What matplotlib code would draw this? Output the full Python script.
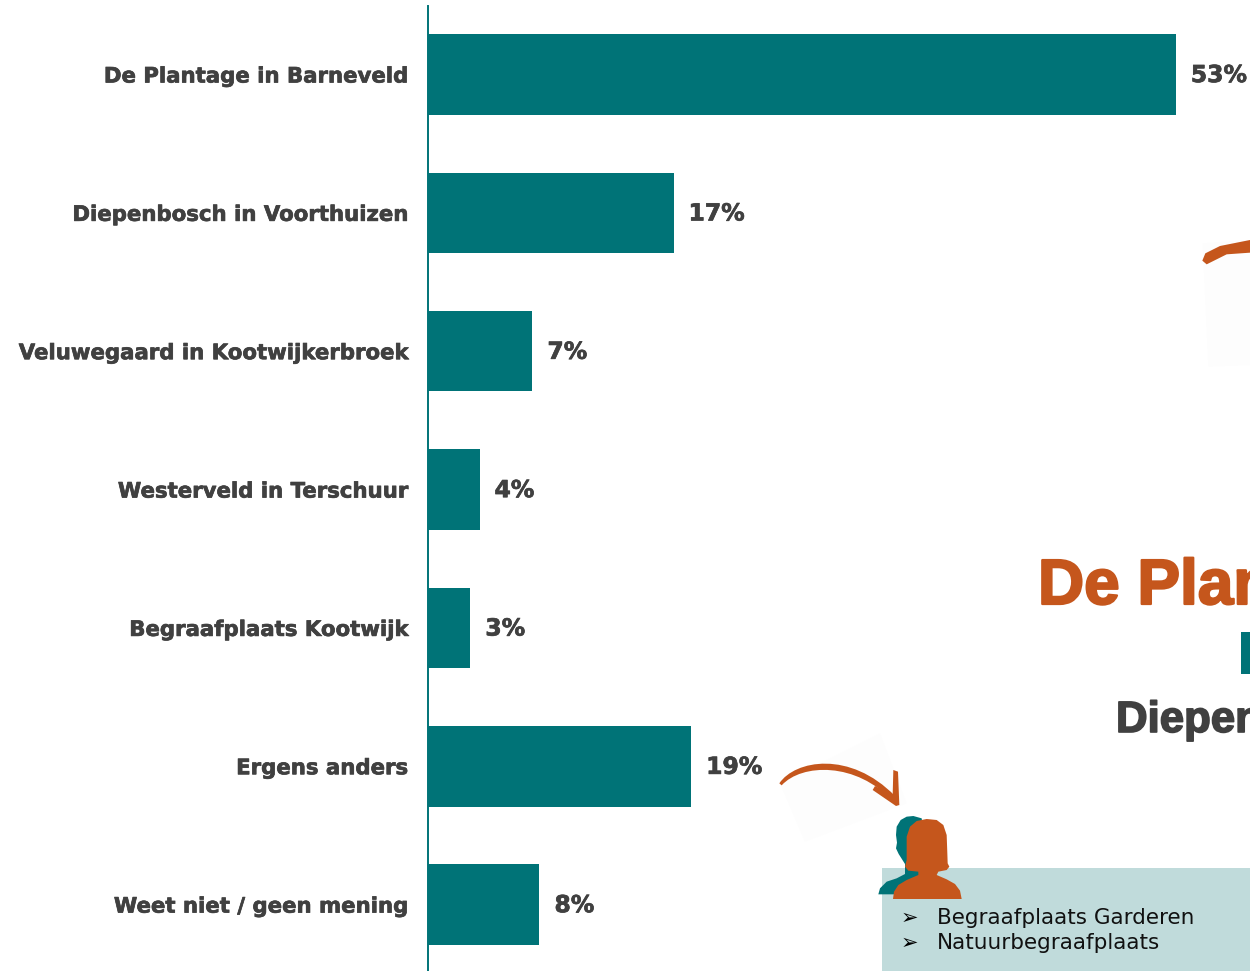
import matplotlib
matplotlib.use("Agg")
import matplotlib.pyplot as plt
import matplotlib.patheffects as pe
from matplotlib.patches import Polygon, Rectangle, PathPatch
from matplotlib.path import Path

plt.rcParams["font.family"] = ["DejaVu Sans"]

categories = ["De Plantage in Barneveld", "Diepenbosch in Voorthuizen",
              "Veluwegaard in Kootwijkerbroek", "Westerveld in Terschuur",
              "Begraafplaats Kootwijk", "Ergens anders", "Weet niet / geen mening"]
bar_values = [53.0, 17.4, 7.4, 3.65, 3.0, 18.65, 7.9]
value_labels = ["53%", "17%", "7%", "4%", "3%", "19%", "8%"]
others = ["Begraafplaats Garderen", "Natuurbegraafplaats"]

TEAL = "#007377"
ORANGE = "#C5561C"
GRAY = "#404040"
W, H = 1250, 971

fig = plt.figure(figsize=(W / 100, H / 100), dpi=100, facecolor="white")

ov = fig.add_axes([0, 0, 1, 1], zorder=1)
ov.set_xlim(0, W); ov.set_ylim(H, 0); ov.axis("off")

ax = fig.add_axes([428 / W, 0, (W - 428) / W, (H - 6) / H], zorder=2)
ax.patch.set_alpha(0)
ypos = list(range(len(categories)))
ax.barh(ypos, bar_values, height=0.582, color=TEAL)
ax.set_xlim(0, (W - 428) / 14.11)
ax.set_ylim(6.48, -0.495)
ax.set_yticks(ypos, categories, fontsize=15.3, fontweight="bold", color=GRAY, family="DejaVu Sans")
ax.tick_params(axis="y", length=0, pad=14.4)
for t in ax.get_yticklabels():
    t.set_verticalalignment("center_baseline")
    t.set_path_effects([pe.withStroke(linewidth=0.5, foreground=GRAY)])
ax.xaxis.set_visible(False)
for s in ("top", "right", "bottom"):
    ax.spines[s].set_visible(False)
ax.spines["left"].set_color(TEAL)
ax.spines["left"].set_linewidth(1.4)
for y, v, lab in zip(ypos, bar_values, value_labels):
    ax.annotate(lab, (v, y), xytext=(10.8, -0.8), textcoords="offset points",
                va="center", ha="left", fontsize=16.9, fontweight="bold",
                color=GRAY, annotation_clip=False, family="DejaVu Sans",
                path_effects=[pe.withStroke(linewidth=0.5, foreground=GRAY)])


def z1(pts):
    return [(770 + x / 3, 720 + y / 3) for x, y in pts]


def z2(pts):
    return [(1020 + x / 3, 220 + y / 3) for x, y in pts]


ov.add_patch(Polygon(z2([(548, 70), (690, 60), (690, 435), (565, 440)]), fc="#FDFDFD", ec="none", zorder=1))
ov.add_patch(Polygon(z1([(30, 190), (330, 40), (410, 250), (105, 365)]), fc="#FDFDFD", ec="none", zorder=1))

ov.add_patch(Polygon(z2([(547, 122), (556, 100), (600, 78), (690, 60), (690, 98),
                         (620, 103), (560, 133)]), fc=ORANGE, ec="none", zorder=2))

shaft = z1([(28, 190), (75, 120), (240, 90), (375, 228),
            (368, 244), (260, 125), (95, 130), (35, 196), (28, 190)])
codes = [Path.MOVETO, Path.CURVE4, Path.CURVE4, Path.CURVE4, Path.LINETO,
         Path.CURVE4, Path.CURVE4, Path.CURVE4, Path.CLOSEPOLY]
ov.add_patch(PathPatch(Path(shaft, codes), fc=ORANGE, ec="none", zorder=2))
ov.add_patch(Polygon(z1([(370, 150), (384, 155), (388, 255), (378, 258), (308, 210), (315, 198), (368, 226)]),
                     fc=ORANGE, ec="none", zorder=2))

ov.add_patch(Rectangle((882, 868), W - 882, H - 868, fc="#C0DBDB", ec="none", zorder=2))

teal_person = [(325, 523), (330, 505), (350, 485), (380, 475), (405, 462), (405, 432), (386, 402),
               (378, 385), (381, 368), (378, 345), (380, 320), (392, 300), (410, 290), (430, 288), (455, 295),
               (470, 400), (470, 523)]
orange_person = [(369, 537), (372, 515), (385, 495), (410, 480), (445, 465), (445, 455), (415, 452),
                 (405, 440), (410, 420), (410, 350), (420, 320), (440, 303), (470, 297), (500, 300),
                 (520, 315), (530, 345), (532, 400), (533, 430), (538, 440), (530, 450), (505, 455),
                 (500, 465), (530, 478), (555, 492), (570, 512), (575, 537)]
ov.add_patch(Polygon(z1(teal_person), fc=TEAL, ec="none", zorder=3))
ov.add_patch(Polygon(z1(orange_person), fc=ORANGE, ec="none", zorder=4))

for y, t in zip((918, 943), others):
    ov.text(901, y, "\u27a2", fontsize=15, color="black", va="center", ha="left", zorder=5)
    ov.text(937, y, t, fontsize=15.45, color="#111111", va="center", ha="left", zorder=5)

ov.text(1038, 604, "De Plantage", fontsize=46, fontweight="bold", family="Liberation Sans",
        color=ORANGE, va="baseline", ha="left", zorder=5, clip_on=True,
        path_effects=[pe.withStroke(linewidth=1.6, foreground=ORANGE)])
ov.add_patch(Rectangle((1241, 632), 9, 42, fc=TEAL, ec="none", zorder=5))
ov.text(1116, 732, "Diepenbosch", fontsize=31.5, fontweight="bold", family="Liberation Sans",
        color=GRAY, va="baseline", ha="left", zorder=5, clip_on=True,
        path_effects=[pe.withStroke(linewidth=1.2, foreground=GRAY)])

fig.savefig("out.png", dpi=100, facecolor="white")
